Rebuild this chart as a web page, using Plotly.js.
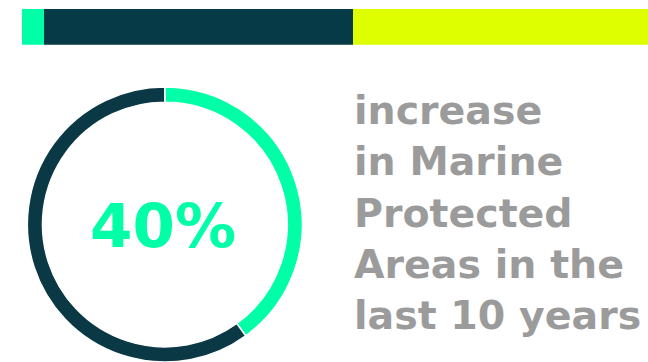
<!DOCTYPE html>
<html>
<head>
<meta charset="utf-8">
<script src="https://cdn.plot.ly/plotly-3.0.1.min.js"></script>
<style>html,body{margin:0;padding:0;background:#fff;}#chart{width:648px;height:362px;}</style>
</head>
<body>
<div id="chart"></div>
<script>
// Top colour band segments
var bandLabels = ["a", "b", "c"];
var bandValues = [22, 309, 295];
var bandColors = ["#00FFA6", "#063A47", "#DDFF00"];

// Donut data
var donutLabels = ["Increase", "Rest"];
var donutValues = [40, 60];
var donutColors = ["#00FFA6", "#0A3844"];

var bigLabel = "40%";
var descLines = ["increase", "in Marine", "Protected", "Areas in the", "last 10 years"];

var traces = [];
for (var i = 0; i < bandValues.length; i++) {
  traces.push({
    type: "bar", orientation: "h",
    x: [bandValues[i]], y: ["band"], name: bandLabels[i],
    marker: {color: bandColors[i], line: {width: 0}},
    xaxis: "x", yaxis: "y", hoverinfo: "skip", showlegend: false
  });
}
traces.push({
  type: "pie", labels: donutLabels, values: donutValues,
  hole: 0.89, sort: false, direction: "clockwise", rotation: 0,
  marker: {colors: donutColors, line: {color: "#ffffff", width: 1.5}},
  textinfo: "none", hoverinfo: "skip", showlegend: false,
  domain: {x: [26.7/648, 303/648], y: [0, 1 - 87/362]}
});

var total = bandValues.reduce(function(a,b){return a+b;}, 0);

var layout = {
  width: 648, height: 362,
  margin: {l: 0, r: 0, t: 0, b: 0},
  paper_bgcolor: "#ffffff", plot_bgcolor: "#ffffff",
  barmode: "stack", bargap: 0, showlegend: false,
  xaxis: {domain: [22/648, 1], range: [0, total], visible: false, fixedrange: true},
  yaxis: {domain: [1 - 44.7/362, 1 - 9/362], range: [-0.5, 0.5], visible: false, fixedrange: true},
  annotations: [
    {
      text: bigLabel, xref: "paper", yref: "paper",
      x: 163/648, y: 1 - 225/362, xanchor: "center", yanchor: "middle",
      showarrow: false,
      font: {family: "DejaVu Sans", size: 61, color: "#00FFA6", weight: "bold"}
    },
    {
      text: descLines.join("<br>"), xref: "paper", yref: "paper",
      x: 352/648, y: 1 - 85/362, xanchor: "left", yanchor: "top", align: "left",
      showarrow: false,
      font: {family: "DejaVu Sans", size: 39.5, color: "#9B9B9B", weight: "bold"}
    }
  ]
};

Plotly.newPlot("chart", traces, layout, {displayModeBar: false, staticPlot: true});
</script>
</body>
</html>
